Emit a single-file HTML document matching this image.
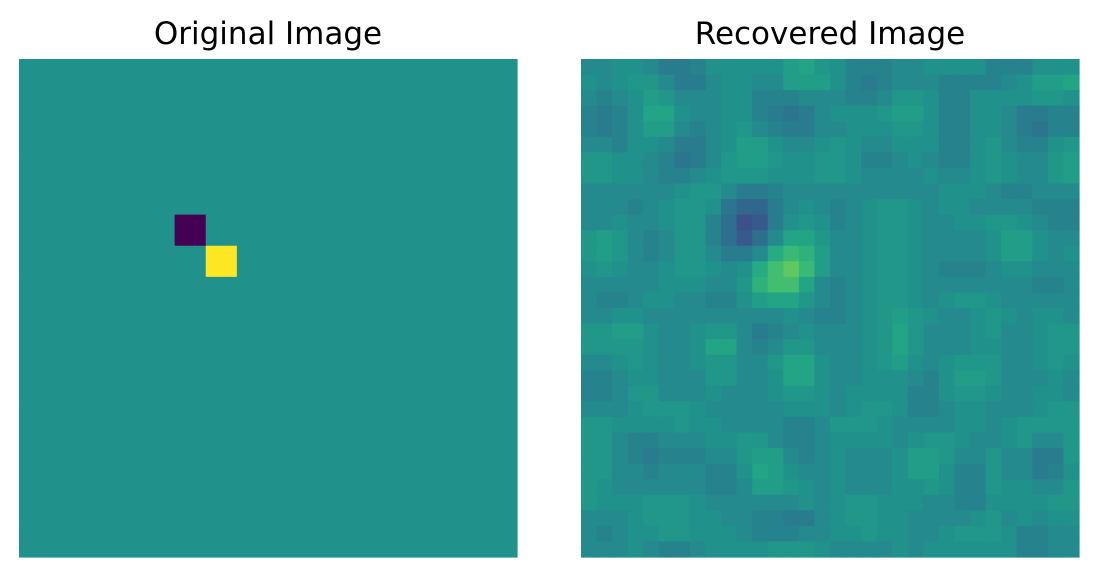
<!DOCTYPE html>
<html><head><meta charset="utf-8"><style>
body{margin:0;background:#fff;width:1097px;height:575px;overflow:hidden}
svg{display:block}
text{font-family:"DejaVu Sans","Liberation Sans",sans-serif;font-size:31px;fill:#000}
</style></head><body>
<svg id="chart" width="1097" height="575">
<text x="268" y="44" text-anchor="middle">Original Image</text>
<text x="830" y="44" text-anchor="middle">Recovered Image</text>
<g id="left"></g>
<g id="right"></g>
</svg>
<script>
const origSize = 16;
const origNeg = [5, 5];
const origPos = [6, 6];
const recovered = [
[-1,-1,0,0,-1,-3,-3,-2,0,0,0,0,0,2,3,1,0,-2,-2,-2,-1,-1,0,0,0,0,-2,-2,-2,0,0,0],
[0,-1,0,1,1,-1,-3,-3,-1,0,0,-1,-1,2,2,2,0,-2,-3,-2,-1,-1,-1,-2,-2,-2,-2,-1,0,2,2,3],
[-1,-2,-1,0,2,1,-1,-1,-1,0,0,-2,-2,-2,-1,-1,-1,-2,-2,-1,1,1,0,-2,-2,0,0,0,0,1,1,0],
[-2,-3,-2,0,3,3,0,-1,-1,0,0,-2,-3,-4,-3,-1,0,0,0,1,2,2,0,-2,-2,0,0,-1,-3,-3,-2,-2],
[-2,-3,-2,0,2,2,-1,-2,-1,0,1,-1,-2,-3,-3,-1,-1,0,0,0,1,1,0,-2,-2,0,0,-1,-3,-4,-2,-2],
[-1,-1,-2,0,0,-1,-3,-3,-1,0,2,2,0,-1,-1,0,1,0,-1,-1,0,0,0,-2,-2,0,1,-1,-2,-2,0,1],
[1,1,0,0,-1,-2,-4,-3,-1,1,2,2,1,0,0,1,1,0,-2,-2,-1,0,-1,-2,-2,0,1,0,-1,-1,1,2],
[1,1,0,0,-1,-2,-2,-1,0,1,1,1,0,0,0,1,1,0,-1,-1,-1,-1,0,-1,-1,0,1,0,-1,-1,1,2],
[-1,-1,-1,-1,-1,-1,0,1,1,-1,-3,-3,-2,-1,-1,-1,-1,-1,-1,-1,-1,-1,-1,0,0,0,-1,-2,-2,-1,-1,-1],
[-1,-1,-1,-2,-1,0,1,1,0,-4,-6,-6,-3,-1,0,-1,-2,-1,0,1,1,0,-1,0,0,-1,-1,-1,-1,-2,-2,-2],
[-1,-1,0,-1,-1,0,1,1,-2,-5,-9,-8,-3,0,1,0,-2,-1,0,1,1,0,-1,-1,0,0,1,1,0,-1,-2,-2],
[1,2,1,-1,-2,-1,1,1,-2,-5,-8,-5,-1,3,3,1,-1,-1,0,1,1,0,-1,-1,-1,-1,0,2,2,0,-1,-1],
[1,2,1,-1,-2,-1,1,1,-1,-3,-3,-1,4,6,5,2,-1,-1,0,1,1,0,-1,-1,-1,-1,0,2,2,0,-1,0],
[0,1,0,-1,-1,0,1,1,0,-1,0,4,7,9,6,2,-1,-1,0,1,1,0,-1,-2,-2,-2,-1,0,0,-1,-1,-1],
[-1,-1,-1,-1,-1,0,0,0,-1,-1,1,5,7,7,3,-1,-2,-1,0,1,1,0,-1,-1,-1,-1,-1,-1,-1,-2,-2,-1],
[-1,-2,-2,-1,0,0,-1,-1,-2,-2,0,2,3,3,1,-1,-2,-1,0,1,1,0,-1,0,1,1,0,-1,-1,-1,-1,-1],
[-1,-1,0,0,-1,-1,-1,-1,-1,-1,-1,-1,-1,0,-1,-2,-2,-1,0,1,2,1,0,-1,-1,0,1,0,-1,0,0,-1],
[1,1,2,2,0,-1,-1,0,1,1,-1,-3,-2,-1,0,-1,-1,-1,0,1,3,1,-1,-1,-1,0,1,-1,-1,0,1,1],
[1,1,1,1,0,-1,-1,0,3,3,-1,-2,-1,1,1,-1,-1,-1,0,1,3,1,-1,-1,-1,0,0,-1,-1,0,1,1],
[-1,-1,0,1,0,-1,-1,0,1,1,-1,-1,1,3,3,0,-1,-1,0,1,2,0,-1,0,1,1,1,-1,-1,0,1,0],
[-2,-2,-1,0,0,-1,-1,-1,1,1,-1,-1,0,3,3,0,-1,-1,0,0,0,-1,-2,0,2,2,1,-1,-1,-1,0,-1],
[-2,-2,-1,1,1,-1,-1,-1,0,-1,-1,-1,0,1,1,0,-1,0,0,0,0,-2,-2,0,1,1,0,-1,-1,0,0,-1],
[-1,-1,-1,0,1,1,1,0,-1,-1,-1,-1,-1,0,0,0,-1,0,1,1,0,-2,-2,-1,0,0,-1,-1,-1,0,1,1],
[1,1,0,0,0,0,1,0,0,-1,-1,-1,-1,-2,-2,-1,1,1,1,0,-1,-1,-1,-1,0,0,-1,0,1,1,1,1],
[1,1,-1,-2,-2,-1,-1,-1,0,0,1,1,-1,-2,-2,-1,0,0,0,0,-1,0,1,1,0,-1,-1,0,1,-1,-1,1],
[1,1,-1,-2,-3,-2,-2,-2,-1,-1,1,2,2,-1,-2,-1,0,-1,-1,-1,0,2,2,1,-1,-1,1,-1,-1,-3,-3,1],
[1,1,-1,-1,-2,-1,-1,-1,-2,-2,0,3,2,0,-1,-1,0,-1,-1,-1,0,2,2,0,-2,-2,1,-1,-1,-3,-2,0],
[1,0,-1,-1,-1,-1,-1,-1,-2,-2,-1,2,2,1,0,-1,0,-1,-1,-1,0,0,1,0,-2,-2,1,0,0,-1,-1,1],
[1,0,0,0,1,1,1,0,-1,-1,-1,-1,-1,-1,0,-1,0,1,1,0,0,0,-1,-1,-2,-2,0,0,0,0,1,1],
[-1,-1,-1,0,1,1,1,0,0,-1,-1,-2,-2,-3,-3,-1,0,1,1,0,0,-1,-1,-1,-1,0,1,-1,0,-1,0,0],
[-1,-2,-1,0,0,1,1,0,0,0,-1,-2,-2,-2,-1,-1,0,0,1,0,0,-1,-1,0,1,1,1,0,-2,-2,-1,-1],
[-1,-1,-1,0,-1,-2,-2,-1,0,0,0,0,1,1,1,0,-1,-1,-1,-1,0,-1,0,0,0,0,0,0,-2,-2,-1,-1]
];
const stops=["#440154","#482475","#414487","#355f8d","#2a788e","#21918c","#22a884","#44bf70","#7ad151","#bddf26","#fde725"];
function hex(c){return [1,3,5].map(i=>parseInt(c.substr(i,2),16));}
function viridis(t){t=Math.max(0,Math.min(1,t));const p=t*10,i=Math.min(9,Math.floor(p)),f=p-i;
 const a=hex(stops[i]),b=hex(stops[i+1]);return "rgb("+a.map((v,k)=>Math.round(v+(b[k]-v)*f)).join(",")+")";}
const NS="http://www.w3.org/2000/svg";
function draw(g,x0,y0,size,n,valFn,colFn,name){
 const cs=size/n;
 for(let r=0;r<n;r++)for(let c=0;c<n;c++){
  const el=document.createElementNS(NS,"rect");
  el.setAttribute("x",x0+c*cs);el.setAttribute("y",y0+r*cs);
  el.setAttribute("width",cs+0.6);el.setAttribute("height",cs+0.6);
  el.setAttribute("fill",colFn(valFn(r,c)));
  
  
  g.appendChild(el);
 }
}
draw(document.getElementById("left"),19,59,498,origSize,
 (r,c)=>(r===origNeg[0]&&c===origNeg[1])?-1:(r===origPos[0]&&c===origPos[1])?1:0,
 v=>viridis(0.5+0.5*v),"original-cell");
draw(document.getElementById("right"),581,59,498,recovered.length,
 (r,c)=>recovered[r][c],v=>viridis(0.5+0.028*v),"recovered-cell");
</script>
</body></html>
